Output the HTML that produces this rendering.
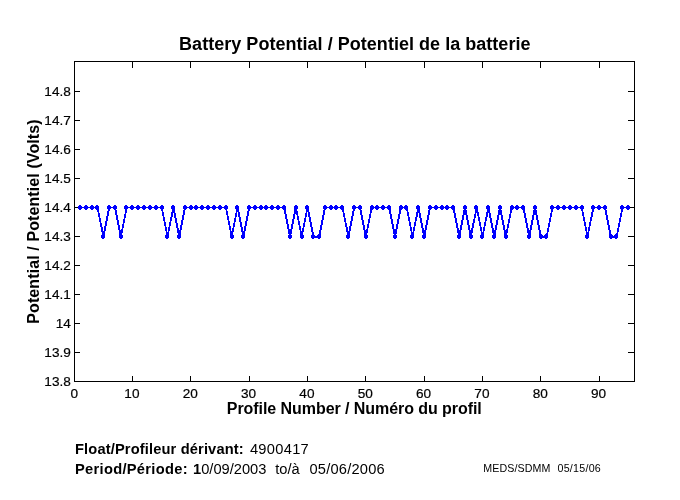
<!DOCTYPE html>
<html><head><meta charset="utf-8"><title>Battery Potential / Potentiel de la batterie</title>
<style>
html,body{margin:0;padding:0;background:#fff;}
body{width:680px;height:500px;overflow:hidden;position:relative;font-family:"Liberation Sans",Arial,Helvetica,sans-serif;color:#000;}
svg{position:absolute;left:0;top:0;}
svg text{font-family:"Liberation Sans",Arial,Helvetica,sans-serif;fill:#000;}
</style></head><body>
<svg width="680" height="500" viewBox="0 0 680 500">
<rect x="0" y="0" width="680" height="500" fill="#fff"/>
<g stroke="#000" stroke-width="1" fill="none" shape-rendering="crispEdges">
<rect x="74.5" y="61.5" width="560" height="320"/>
<line x1="132.5" y1="381" x2="132.5" y2="376"/><line x1="132.5" y1="62" x2="132.5" y2="68"/><line x1="190.5" y1="381" x2="190.5" y2="376"/><line x1="190.5" y1="62" x2="190.5" y2="68"/><line x1="249.5" y1="381" x2="249.5" y2="376"/><line x1="249.5" y1="62" x2="249.5" y2="68"/><line x1="307.5" y1="381" x2="307.5" y2="376"/><line x1="307.5" y1="62" x2="307.5" y2="68"/><line x1="365.5" y1="381" x2="365.5" y2="376"/><line x1="365.5" y1="62" x2="365.5" y2="68"/><line x1="424.5" y1="381" x2="424.5" y2="376"/><line x1="424.5" y1="62" x2="424.5" y2="68"/><line x1="482.5" y1="381" x2="482.5" y2="376"/><line x1="482.5" y1="62" x2="482.5" y2="68"/><line x1="540.5" y1="381" x2="540.5" y2="376"/><line x1="540.5" y1="62" x2="540.5" y2="68"/><line x1="599.5" y1="381" x2="599.5" y2="376"/><line x1="599.5" y1="62" x2="599.5" y2="68"/><line x1="75" y1="352.5" x2="80" y2="352.5"/><line x1="634" y1="352.5" x2="628" y2="352.5"/><line x1="75" y1="323.5" x2="80" y2="323.5"/><line x1="634" y1="323.5" x2="628" y2="323.5"/><line x1="75" y1="294.5" x2="80" y2="294.5"/><line x1="634" y1="294.5" x2="628" y2="294.5"/><line x1="75" y1="265.5" x2="80" y2="265.5"/><line x1="634" y1="265.5" x2="628" y2="265.5"/><line x1="75" y1="236.5" x2="80" y2="236.5"/><line x1="634" y1="236.5" x2="628" y2="236.5"/><line x1="75" y1="207.5" x2="80" y2="207.5"/><line x1="634" y1="207.5" x2="628" y2="207.5"/><line x1="75" y1="178.5" x2="80" y2="178.5"/><line x1="634" y1="178.5" x2="628" y2="178.5"/><line x1="75" y1="149.5" x2="80" y2="149.5"/><line x1="634" y1="149.5" x2="628" y2="149.5"/><line x1="75" y1="120.5" x2="80" y2="120.5"/><line x1="634" y1="120.5" x2="628" y2="120.5"/><line x1="75" y1="91.5" x2="80" y2="91.5"/><line x1="634" y1="91.5" x2="628" y2="91.5"/>
</g>
<g shape-rendering="crispEdges"><polyline points="80.03,207.45 85.87,207.45 91.70,207.45 97.53,207.45 103.37,236.55 109.20,207.45 115.03,207.45 120.87,236.55 126.70,207.45 132.53,207.45 138.37,207.45 144.20,207.45 150.03,207.45 155.87,207.45 161.70,207.45 167.53,236.55 173.37,207.45 179.20,236.55 185.03,207.45 190.87,207.45 196.70,207.45 202.53,207.45 208.37,207.45 214.20,207.45 220.03,207.45 225.87,207.45 231.70,236.55 237.53,207.45 243.37,236.55 249.20,207.45 255.03,207.45 260.87,207.45 266.70,207.45 272.53,207.45 278.37,207.45 284.20,207.45 290.03,236.55 295.87,207.45 301.70,236.55 307.53,207.45 313.37,236.55 319.20,236.55 325.03,207.45 330.87,207.45 336.70,207.45 342.53,207.45 348.37,236.55 354.20,207.45 360.03,207.45 365.87,236.55 371.70,207.45 377.53,207.45 383.37,207.45 389.20,207.45 395.03,236.55 400.87,207.45 406.70,207.45 412.53,236.55 418.37,207.45 424.20,236.55 430.03,207.45 435.87,207.45 441.70,207.45 447.53,207.45 453.37,207.45 459.20,236.55 465.03,207.45 470.87,236.55 476.70,207.45 482.53,236.55 488.37,207.45 494.20,236.55 500.03,207.45 505.87,236.55 511.70,207.45 517.53,207.45 523.37,207.45 529.20,236.55 535.03,207.45 540.87,236.55 546.70,236.55 552.53,207.45 558.37,207.45 564.20,207.45 570.03,207.45 575.87,207.45 581.70,207.45 587.53,236.55 593.37,207.45 599.20,207.45 605.03,207.45 610.87,236.55 616.70,236.55 622.53,207.45 628.37,207.45" fill="none" stroke="#0000ff" stroke-width="1.9" stroke-linejoin="miter"/></g>
<g fill="#0000ff" stroke="none"><path shape-rendering="crispEdges" d="M79 205h2v1h1v3h-1v1h-2v-1h-1v-3h1zM85 205h2v1h1v3h-1v1h-2v-1h-1v-3h1zM91 205h2v1h1v3h-1v1h-2v-1h-1v-3h1zM96 205h2v1h1v3h-1v1h-2v-1h-1v-3h1zM102 234h2v1h1v3h-1v1h-2v-1h-1v-3h1zM108 205h2v1h1v3h-1v1h-2v-1h-1v-3h1zM114 205h2v1h1v3h-1v1h-2v-1h-1v-3h1zM120 234h2v1h1v3h-1v1h-2v-1h-1v-3h1zM125 205h2v1h1v3h-1v1h-2v-1h-1v-3h1zM131 205h2v1h1v3h-1v1h-2v-1h-1v-3h1zM137 205h2v1h1v3h-1v1h-2v-1h-1v-3h1zM143 205h2v1h1v3h-1v1h-2v-1h-1v-3h1zM149 205h2v1h1v3h-1v1h-2v-1h-1v-3h1zM155 205h2v1h1v3h-1v1h-2v-1h-1v-3h1zM161 205h2v1h1v3h-1v1h-2v-1h-1v-3h1zM166 234h2v1h1v3h-1v1h-2v-1h-1v-3h1zM172 205h2v1h1v3h-1v1h-2v-1h-1v-3h1zM178 234h2v1h1v3h-1v1h-2v-1h-1v-3h1zM184 205h2v1h1v3h-1v1h-2v-1h-1v-3h1zM190 205h2v1h1v3h-1v1h-2v-1h-1v-3h1zM195 205h2v1h1v3h-1v1h-2v-1h-1v-3h1zM201 205h2v1h1v3h-1v1h-2v-1h-1v-3h1zM207 205h2v1h1v3h-1v1h-2v-1h-1v-3h1zM213 205h2v1h1v3h-1v1h-2v-1h-1v-3h1zM219 205h2v1h1v3h-1v1h-2v-1h-1v-3h1zM225 205h2v1h1v3h-1v1h-2v-1h-1v-3h1zM231 234h2v1h1v3h-1v1h-2v-1h-1v-3h1zM236 205h2v1h1v3h-1v1h-2v-1h-1v-3h1zM242 234h2v1h1v3h-1v1h-2v-1h-1v-3h1zM248 205h2v1h1v3h-1v1h-2v-1h-1v-3h1zM254 205h2v1h1v3h-1v1h-2v-1h-1v-3h1zM260 205h2v1h1v3h-1v1h-2v-1h-1v-3h1zM265 205h2v1h1v3h-1v1h-2v-1h-1v-3h1zM271 205h2v1h1v3h-1v1h-2v-1h-1v-3h1zM277 205h2v1h1v3h-1v1h-2v-1h-1v-3h1zM283 205h2v1h1v3h-1v1h-2v-1h-1v-3h1zM289 234h2v1h1v3h-1v1h-2v-1h-1v-3h1zM295 205h2v1h1v3h-1v1h-2v-1h-1v-3h1zM301 234h2v1h1v3h-1v1h-2v-1h-1v-3h1zM306 205h2v1h1v3h-1v1h-2v-1h-1v-3h1zM312 234h2v1h1v3h-1v1h-2v-1h-1v-3h1zM318 234h2v1h1v3h-1v1h-2v-1h-1v-3h1zM324 205h2v1h1v3h-1v1h-2v-1h-1v-3h1zM330 205h2v1h1v3h-1v1h-2v-1h-1v-3h1zM335 205h2v1h1v3h-1v1h-2v-1h-1v-3h1zM341 205h2v1h1v3h-1v1h-2v-1h-1v-3h1zM347 234h2v1h1v3h-1v1h-2v-1h-1v-3h1zM353 205h2v1h1v3h-1v1h-2v-1h-1v-3h1zM359 205h2v1h1v3h-1v1h-2v-1h-1v-3h1zM365 234h2v1h1v3h-1v1h-2v-1h-1v-3h1zM371 205h2v1h1v3h-1v1h-2v-1h-1v-3h1zM376 205h2v1h1v3h-1v1h-2v-1h-1v-3h1zM382 205h2v1h1v3h-1v1h-2v-1h-1v-3h1zM388 205h2v1h1v3h-1v1h-2v-1h-1v-3h1zM394 234h2v1h1v3h-1v1h-2v-1h-1v-3h1zM400 205h2v1h1v3h-1v1h-2v-1h-1v-3h1zM405 205h2v1h1v3h-1v1h-2v-1h-1v-3h1zM411 234h2v1h1v3h-1v1h-2v-1h-1v-3h1zM417 205h2v1h1v3h-1v1h-2v-1h-1v-3h1zM423 234h2v1h1v3h-1v1h-2v-1h-1v-3h1zM429 205h2v1h1v3h-1v1h-2v-1h-1v-3h1zM435 205h2v1h1v3h-1v1h-2v-1h-1v-3h1zM441 205h2v1h1v3h-1v1h-2v-1h-1v-3h1zM446 205h2v1h1v3h-1v1h-2v-1h-1v-3h1zM452 205h2v1h1v3h-1v1h-2v-1h-1v-3h1zM458 234h2v1h1v3h-1v1h-2v-1h-1v-3h1zM464 205h2v1h1v3h-1v1h-2v-1h-1v-3h1zM470 234h2v1h1v3h-1v1h-2v-1h-1v-3h1zM475 205h2v1h1v3h-1v1h-2v-1h-1v-3h1zM481 234h2v1h1v3h-1v1h-2v-1h-1v-3h1zM487 205h2v1h1v3h-1v1h-2v-1h-1v-3h1zM493 234h2v1h1v3h-1v1h-2v-1h-1v-3h1zM499 205h2v1h1v3h-1v1h-2v-1h-1v-3h1zM505 234h2v1h1v3h-1v1h-2v-1h-1v-3h1zM511 205h2v1h1v3h-1v1h-2v-1h-1v-3h1zM516 205h2v1h1v3h-1v1h-2v-1h-1v-3h1zM522 205h2v1h1v3h-1v1h-2v-1h-1v-3h1zM528 234h2v1h1v3h-1v1h-2v-1h-1v-3h1zM534 205h2v1h1v3h-1v1h-2v-1h-1v-3h1zM540 234h2v1h1v3h-1v1h-2v-1h-1v-3h1zM545 234h2v1h1v3h-1v1h-2v-1h-1v-3h1zM551 205h2v1h1v3h-1v1h-2v-1h-1v-3h1zM557 205h2v1h1v3h-1v1h-2v-1h-1v-3h1zM563 205h2v1h1v3h-1v1h-2v-1h-1v-3h1zM569 205h2v1h1v3h-1v1h-2v-1h-1v-3h1zM575 205h2v1h1v3h-1v1h-2v-1h-1v-3h1zM581 205h2v1h1v3h-1v1h-2v-1h-1v-3h1zM586 234h2v1h1v3h-1v1h-2v-1h-1v-3h1zM592 205h2v1h1v3h-1v1h-2v-1h-1v-3h1zM598 205h2v1h1v3h-1v1h-2v-1h-1v-3h1zM604 205h2v1h1v3h-1v1h-2v-1h-1v-3h1zM610 234h2v1h1v3h-1v1h-2v-1h-1v-3h1zM615 234h2v1h1v3h-1v1h-2v-1h-1v-3h1zM621 205h2v1h1v3h-1v1h-2v-1h-1v-3h1zM627 205h2v1h1v3h-1v1h-2v-1h-1v-3h1z"/></g>
<g font-size="13.6" stroke="#000" stroke-width="0.2"><text x="70.8" y="385.8" text-anchor="end">13.8</text><text x="70.8" y="356.8" text-anchor="end">13.9</text><text x="70.8" y="327.8" text-anchor="end">14</text><text x="70.8" y="298.8" text-anchor="end">14.1</text><text x="70.8" y="269.8" text-anchor="end">14.2</text><text x="70.8" y="240.8" text-anchor="end">14.3</text><text x="70.8" y="211.8" text-anchor="end">14.4</text><text x="70.8" y="182.8" text-anchor="end">14.5</text><text x="70.8" y="153.8" text-anchor="end">14.6</text><text x="70.8" y="124.8" text-anchor="end">14.7</text><text x="70.8" y="95.8" text-anchor="end">14.8</text><text x="74.2" y="398" text-anchor="middle">0</text><text x="131.9" y="398" text-anchor="middle">10</text><text x="190.3" y="398" text-anchor="middle">20</text><text x="248.6" y="398" text-anchor="middle">30</text><text x="306.9" y="398" text-anchor="middle">40</text><text x="365.3" y="398" text-anchor="middle">50</text><text x="423.6" y="398" text-anchor="middle">60</text><text x="481.9" y="398" text-anchor="middle">70</text><text x="540.3" y="398" text-anchor="middle">80</text><text x="598.6" y="398" text-anchor="middle">90</text></g>
<text x="354.8" y="50" text-anchor="middle" font-size="18" font-weight="bold" letter-spacing="0.03">Battery Potential / Potentiel de la batterie</text>
<text x="354.3" y="414" text-anchor="middle" font-size="16" font-weight="bold" letter-spacing="-0.06">Profile Number / Numéro du profil</text>
<text transform="translate(39.3,221.5) rotate(-90)" text-anchor="middle" font-size="16" font-weight="bold" letter-spacing="0.1">Potential / Potentiel (Volts)</text>
<text x="75" y="454" font-size="14.67"><tspan font-weight="bold" letter-spacing="0.14">Float/Profileur dérivant:</tspan><tspan x="249.9" letter-spacing="0.3">4900417</tspan></text>
<text x="75" y="473.5" font-size="14.67"><tspan font-weight="bold" letter-spacing="0.3">Period/Période:</tspan><tspan x="193" font-weight="bold">1</tspan>0/09/2003<tspan x="275.3">to/à</tspan><tspan x="309.5" letter-spacing="0.2">05/06/2006</tspan></text>
<text x="483.3" y="471.7" font-size="10.67" letter-spacing="0.1">MEDS/SDMM</text><text x="557.5" y="471.7" font-size="10.67" letter-spacing="0.25">05/15/06</text>
</svg>
</body></html>
